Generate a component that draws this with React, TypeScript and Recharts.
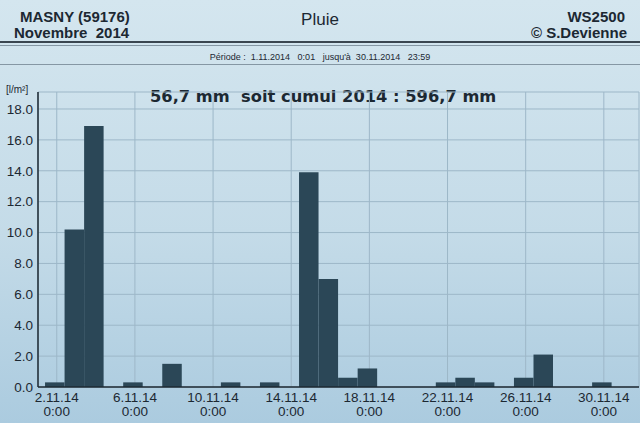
import React from 'react';
import { BarChart, Bar, XAxis, YAxis, CartesianGrid } from 'recharts';

// pluie journaliere, novembre 2014 (jours 1 a 30)
const days = [1, 2, 3, 4, 5, 6, 7, 8, 9, 10, 11, 12, 13, 14, 15, 16, 17, 18, 19, 20, 21, 22, 23, 24, 25, 26, 27, 28, 29, 30];
const rain = [0.3, 10.2, 16.9, 0, 0.3, 0, 1.5, 0, 0, 0.3, 0, 0.3, 0, 13.9, 7.0, 0.6, 1.2, 0, 0, 0, 0.3, 0.6, 0.3, 0, 0.6, 2.1, 0, 0, 0.3, 0];

const tickDays = [2, 6, 10, 14, 18, 22, 26, 30];
const tickDates = ['2.11.14', '6.11.14', '10.11.14', '14.11.14', '18.11.14', '22.11.14', '26.11.14', '30.11.14'];
const tickTime = '0:00';
const yTicks = [0, 2, 4, 6, 8, 10, 12, 14, 16, 18];

// each day's bar sits just before the following midnight
const BAR_SHIFT = 0.9;
const data = days.map((d, i) => ({ t: d + BAR_SHIFT, mm: rain[i] }));

const INK = '#1c2832';
const SANS = '"Liberation Sans", Arial, sans-serif';

const head: React.CSSProperties = { position: 'absolute', fontFamily: SANS, fontWeight: 700, fontSize: 15, lineHeight: '16px', whiteSpace: 'pre' };

function DateTick(props: any) {
  const { x, y, payload } = props;
  const idx = tickDays.indexOf(payload.value);
  return (
    <text x={x} y={y} textAnchor="middle" fill={INK} fontSize={13.5} fontFamily={SANS}>
      <tspan x={x} dy={15}>{tickDates[idx]}</tspan>
      <tspan x={x} dy={14}>{tickTime}</tspan>
    </text>
  );
}

export default function App() {
  return (
    <div
      style={{
        position: 'absolute',
        left: 0,
        top: 0,
        width: 640,
        height: 423,
        overflow: 'hidden',
        color: INK,
        background: 'linear-gradient(180deg, #d4e6ef 0%, #c4dbe8 55%, #abcbdf 100%)',
      }}
    >
      <div style={{ ...head, left: 20, top: 9 }}>MASNY (59176)</div>
      <div style={{ ...head, left: 14, top: 25 }}>{'Novembre  2014'}</div>
      <div style={{ position: 'absolute', left: 0, width: 640, top: 11, textAlign: 'center', fontFamily: SANS, fontSize: 17, lineHeight: '18px' }}>Pluie</div>
      <div style={{ ...head, right: 15, top: 9 }}>WS2500</div>
      <div style={{ ...head, right: 13, top: 25 }}>© S.Devienne</div>
      <div style={{ position: 'absolute', left: 0, width: 640, top: 41, height: 2, background: '#3a4650' }} />
      <div style={{ position: 'absolute', left: 0, width: 640, top: 45, height: 1, background: '#8597a4' }} />
      <div style={{ position: 'absolute', left: 0, width: 640, top: 51, textAlign: 'center', fontFamily: SANS, fontSize: 9, lineHeight: '12px', whiteSpace: 'pre' }}>
        {'Période :  1.11.2014   0:01   jusqu\'à  30.11.2014   23:59'}
      </div>
      <div style={{ position: 'absolute', left: 0, width: 640, top: 64, height: 1, background: '#8597a4' }} />
      <div style={{ position: 'absolute', left: 6, top: 84, fontFamily: SANS, fontSize: 10, lineHeight: '12px' }}>[l/m²]</div>
      <div style={{ ...head, left: 150, top: 87, fontFamily: '"DejaVu Sans", Verdana, sans-serif', fontSize: 16.3, lineHeight: '20px' }}>
        {'56,7 mm  soit cumul 2014 : 596,7 mm'}
      </div>

      <div style={{ position: 'absolute', left: 0, top: 0 }}>
        <BarChart width={640} height={423} data={data} margin={{ top: 92, right: 1, left: 4, bottom: 0 }}>
          <CartesianGrid stroke="#9db7c8" strokeWidth={1} />
          <XAxis
            dataKey="t"
            type="number"
            domain={[1.04, 31.8]}
            allowDataOverflow
            ticks={tickDays}
            interval={0}
            height={36}
            tickLine={false}
            tickSize={0}
            tickMargin={0}
            axisLine={{ stroke: INK, strokeWidth: 1.5 }}
            tick={<DateTick />}
          />
          <YAxis
            domain={[0, 19.1]}
            allowDataOverflow
            ticks={yTicks}
            interval={0}
            width={34}
            tickLine={false}
            tickSize={0}
            tickMargin={5}
            tickFormatter={(v: number) => v.toFixed(1)}
            tick={{ fill: INK, fontSize: 13.5, fontFamily: SANS }}
            axisLine={{ stroke: INK, strokeWidth: 1.5 }}
          />
          <YAxis yAxisId="r" orientation="right" width={0} domain={[0, 19.1]} tick={false} tickLine={false} axisLine={{ stroke: INK, strokeWidth: 1.5 }} />
          <Bar dataKey="mm" fill="#2b4757" barSize={19.5} isAnimationActive={false} />
        </BarChart>
      </div>
    </div>
  );
}
